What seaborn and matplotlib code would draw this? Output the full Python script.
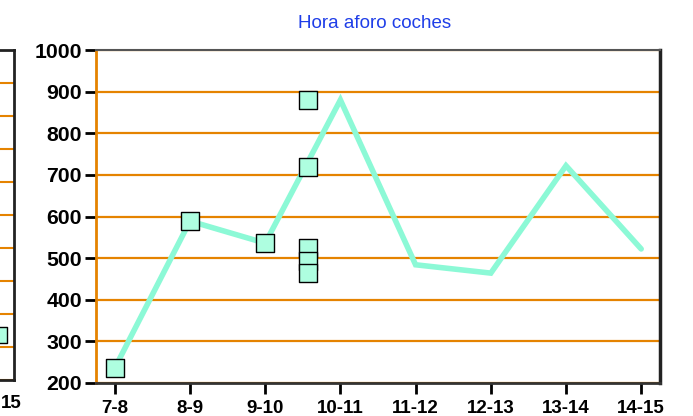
import matplotlib
matplotlib.use("Agg")
import matplotlib.pyplot as plt
import seaborn as sns
import pandas as pd

hours = ["7-8", "8-9", "9-10", "10-11", "11-12", "12-13", "13-14", "14-15"]
line_values = [236, 589, 536, 880, 484, 464, 722, 522]
marker_x = [0, 1, 2, 2.57, 2.57, 2.57, 2.57, 2.57]
marker_values = [236, 588, 536, 880, 720, 524, 494, 464]
y_ticks = [200, 300, 400, 500, 600, 700, 800, 900, 1000]
title = "Hora aforo coches"

# neighbouring chart fragment (cut off at the left edge)
frag_x = [7.05]
frag_values = [1.36]
frag_label = "15"

sns.set_theme(style="white")
plt.rcParams['font.family'] = ['Liberation Sans', 'DejaVu Sans']

ORANGE = "#e58300"
LINE = "#8cf9d6"
FACE = "#aefee0"

fig = plt.figure(figsize=(6.93, 4.16), dpi=100)

# ---- fragment axes
axf = fig.add_axes([(14 - 560) / 693, 36 / 416, 560 / 693, 330 / 416])
axf.set_xlim(-0.25, 7.25)
axf.set_ylim(0, 10)
axf.set_yticks(range(0, 11))
axf.set_yticklabels([])
axf.set_xticks([])
axf.tick_params(axis="y", length=0)
axf.yaxis.grid(True, color=ORANGE, linewidth=1.5)
axf.xaxis.grid(False)
for s in axf.spines.values():
    s.set_color("#222222")
    s.set_linewidth(2)
sns.scatterplot(x=frag_x, y=frag_values, ax=axf, marker="s", s=140,
                color=FACE, edgecolor="black", linewidth=1, zorder=5, clip_on=False)
fig.text(0.5 / 693, 1 - 404 / 416, frag_label, fontsize=13.5, fontweight="bold",
         color="black", ha="left", va="center")

# ---- main axes
ax = fig.add_axes([96 / 693, 33 / 416, 564 / 693, 333 / 416])
df_line = pd.DataFrame({"x": range(len(hours)), "y": line_values})
sns.lineplot(data=df_line, x="x", y="y", ax=ax, color=LINE, linewidth=4,
             solid_capstyle="round", solid_joinstyle="miter", zorder=3)
df_m = pd.DataFrame({"x": marker_x, "y": marker_values})
sns.scatterplot(data=df_m, x="x", y="y", ax=ax, marker="s", s=150,
                color=FACE, edgecolor="black", linewidth=1, zorder=5, clip_on=False)

ax.set_xlim(-0.25, 7.25)
ax.set_ylim(200, 1000)
ax.set_yticks(y_ticks)
ax.set_yticklabels([str(v) for v in y_ticks], fontsize=15.3, fontweight="bold", color="black")
ax.set_xticks(range(len(hours)))
ax.set_xticklabels(hours, fontsize=13.5, fontweight="bold", color="black")
ax.tick_params(axis="y", direction="out", length=8, width=2, color="black", pad=2, left=True)
ax.tick_params(axis="x", direction="out", length=8, width=2, color="black", pad=4, bottom=True)
ax.yaxis.grid(True, color=ORANGE, linewidth=1.6)
ax.xaxis.grid(False)
ax.set_axisbelow(True)
ax.set_xlabel("")
ax.set_ylabel("")
ax.spines["left"].set_color(ORANGE)
ax.spines["left"].set_linewidth(2)
ax.spines["bottom"].set_color("#333333")
ax.spines["bottom"].set_linewidth(2)
ax.spines["right"].set_color("#222222")
ax.spines["right"].set_linewidth(2.5)
ax.spines["top"].set_color("#555555")
ax.spines["top"].set_linewidth(1.5)

fig.text(375 / 693, 1 - 24 / 416, title, color="#1f3ee8", fontsize=13.5,
         ha="center", va="center")

fig.savefig("out.png", dpi=100)
